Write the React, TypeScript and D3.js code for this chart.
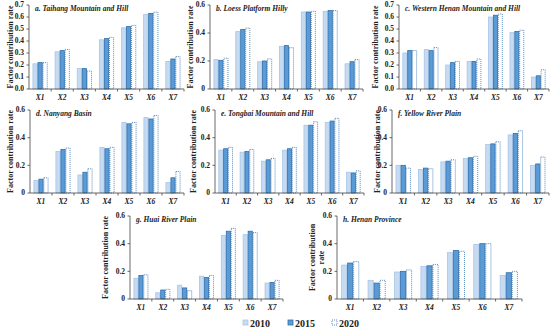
import React from 'react'
import * as d3 from 'd3'

const factors = ['X1', 'X2', 'X3', 'X4', 'X5', 'X6', 'X7']
const years = ['2010', '2015', '2020']

const titles = [
  'a. Taihang Mountain and Hill',
  'b. Loess Platform Hilly',
  'c. Western Henan Mountain and Hill',
  'd. Nanyang Basin',
  'e. Tongbai Mountain and Hill',
  'f. Yellow River Plain',
  'g. Huai River Plain',
  'h. Henan Province',
]

// [2010, 2015, 2020] per factor
const taihang = [[0.21, 0.22, 0.22], [0.31, 0.32, 0.33], [0.17, 0.17, 0.15], [0.41, 0.42, 0.43], [0.51, 0.52, 0.53], [0.62, 0.63, 0.64], [0.23, 0.25, 0.27]]
const loess = [[0.21, 0.205, 0.22], [0.41, 0.425, 0.435], [0.195, 0.2, 0.215], [0.305, 0.31, 0.295], [0.55, 0.55, 0.555], [0.555, 0.56, 0.56], [0.18, 0.195, 0.21]]
const westHenan = [[0.3, 0.32, 0.32], [0.33, 0.32, 0.345], [0.2, 0.22, 0.23], [0.23, 0.23, 0.25], [0.6, 0.615, 0.625], [0.47, 0.48, 0.49], [0.1, 0.11, 0.16]]
const nanyang = [[0.09, 0.1, 0.11], [0.3, 0.315, 0.325], [0.13, 0.15, 0.175], [0.33, 0.32, 0.33], [0.51, 0.5, 0.51], [0.545, 0.535, 0.56], [0.075, 0.11, 0.155]]
const tongbai = [[0.31, 0.32, 0.33], [0.295, 0.3, 0.315], [0.23, 0.24, 0.25], [0.31, 0.32, 0.33], [0.49, 0.49, 0.515], [0.51, 0.52, 0.54], [0.15, 0.145, 0.16]]
const yellowRiver = [[0.2, 0.2, 0.18], [0.17, 0.18, 0.175], [0.225, 0.23, 0.24], [0.25, 0.255, 0.265], [0.35, 0.355, 0.37], [0.42, 0.43, 0.45], [0.2, 0.21, 0.26]]
const huaiRiver = [[0.15, 0.17, 0.175], [0.045, 0.065, 0.07], [0.1, 0.08, 0.06], [0.165, 0.155, 0.17], [0.46, 0.49, 0.51], [0.465, 0.49, 0.48], [0.115, 0.12, 0.135]]
const henan = [[0.245, 0.26, 0.27], [0.135, 0.115, 0.135], [0.195, 0.2, 0.21], [0.235, 0.24, 0.25], [0.335, 0.35, 0.345], [0.395, 0.4, 0.4], [0.17, 0.19, 0.2]]

const ticks07 = [0, 0.1, 0.2, 0.3, 0.4, 0.5, 0.6, 0.7]
const ticks06 = [0, 0.2, 0.4, 0.6]

const fills = ['#c6dbf1', '#5b9bd5', '#ffffff']
const strokes = ['#a7c5e6', '#2f6fae', '#2f6fae']
const font = '"Liberation Serif", "Times New Roman", serif'

function Panel({ title, data, ticks, left, right, top, bottom, labelX, twoLine = false }) {
  const y = d3.scaleLinear().domain([0, ticks[ticks.length - 1]]).range([bottom, top])
  const x = d3.scaleBand().domain(factors).range([left, right]).paddingInner(0.32).paddingOuter(0.16)
  const xi = d3.scaleBand().domain(years).range([0, x.bandwidth()])
  const step = x.step()
  const fmt = ticks.length > 4 ? d3.format('.1f') : (d) => (d === 0 ? '0' : d3.format('.1f')(d))
  const midY = (top + bottom) / 2

  return (
    <g>
      {/* bars */}
      {data.map((vals, i) =>
        vals.map((v, j) => (
          <rect
            key={i + '-' + j}
            x={x(factors[i]) + xi(years[j]) + 0.4}
            y={y(v)}
            width={xi.bandwidth() - 0.8}
            height={bottom - y(v)}
            fill={fills[j]}
            stroke={strokes[j]}
            strokeWidth={0.8}
            strokeDasharray={j === 2 ? '1,1' : null}
          />
        ))
      )}
      {/* y axis */}
      <line x1={left} x2={left} y1={top} y2={bottom} stroke="#444" strokeWidth={0.8} />
      {ticks.map((t) => (
        <g key={t}>
          <line x1={left - 2.5} x2={left} y1={y(t)} y2={y(t)} stroke="#444" strokeWidth={0.8} />
          <text x={left - 5} y={y(t)} dy="0.33em" textAnchor="end" fontSize={7.5} fontWeight="bold" fontFamily={font} fill="#222">
            {fmt(t)}
          </text>
        </g>
      ))}
      {/* x axis */}
      <line x1={left} x2={right} y1={bottom} y2={bottom} stroke="#444" strokeWidth={0.8} />
      {factors.map((f, i) => (
        <g key={f}>
          <line x1={left + step * (i + 1)} x2={left + step * (i + 1)} y1={bottom} y2={bottom + 2.5} stroke="#444" strokeWidth={0.8} />
          <text x={x(f) + x.bandwidth() / 2} y={bottom + 11} textAnchor="middle" fontSize={7.5} fontWeight="bold" fontStyle="italic" fontFamily={font} fill="#222">
            {f}
          </text>
        </g>
      ))}
      <text x={left + 6} y={top + 6} fontSize={7.5} fontWeight="bold" fontStyle="italic" fontFamily={font} fill="#222">
        {title}
      </text>
      {twoLine ? (
        <text transform={`translate(${labelX},${midY}) rotate(-90)`} textAnchor="middle" fontSize={8} fontWeight="bold" fontFamily={font} fill="#222">
          <tspan x={0} dy="-0.3em">Factor contribution</tspan>
          <tspan x={0} dy="1.15em">rate</tspan>
        </text>
      ) : (
        <text transform={`translate(${labelX},${midY}) rotate(-90)`} textAnchor="middle" dy="0.35em" fontSize={8} fontWeight="bold" fontFamily={font} fill="#222">
          Factor contribution rate
        </text>
      )}
    </g>
  )
}

export default function App() {
  const legendX = [243, 288, 332]
  return (
    <svg width={550} height={332} style={{ position: 'absolute', left: 0, top: 0 }}>
      <rect width={550} height={332} fill="white" />
      <Panel title={titles[0]} data={taihang} ticks={ticks07} left={29} right={184} top={5} bottom={89} labelX={10} />
      <Panel title={titles[1]} data={loess} ticks={ticks06} left={210} right={363} top={5} bottom={89} labelX={190} />
      <Panel title={titles[2]} data={westHenan} ticks={ticks07} left={399} right={549} top={5} bottom={89} labelX={375} />
      <Panel title={titles[3]} data={nanyang} ticks={ticks06} left={30} right={184} top={110} bottom={193} labelX={10} />
      <Panel title={titles[4]} data={tongbai} ticks={ticks06} left={215} right={364} top={110} bottom={193} labelX={193} />
      <Panel title={titles[5]} data={yellowRiver} ticks={ticks06} left={392} right={549} top={110} bottom={193} labelX={377} />
      <Panel title={titles[6]} data={huaiRiver} ticks={ticks06} left={130} right={283} top={216} bottom={299} labelX={105} />
      <Panel title={titles[7]} data={henan} ticks={ticks06} left={337} right={522} top={216} bottom={299} labelX={317} twoLine />
      {years.map((yr, j) => (
        <g key={yr}>
          <rect x={legendX[j]} y={320} width={5} height={5} fill={fills[j]} stroke={strokes[j]} strokeWidth={0.8} strokeDasharray={j === 2 ? '1,1' : null} />
          <text x={legendX[j] + 7} y={324} dy="0.33em" fontSize={10} fontWeight="bold" fontFamily={font} fill="#222">
            {yr}
          </text>
        </g>
      ))}
    </svg>
  )
}
